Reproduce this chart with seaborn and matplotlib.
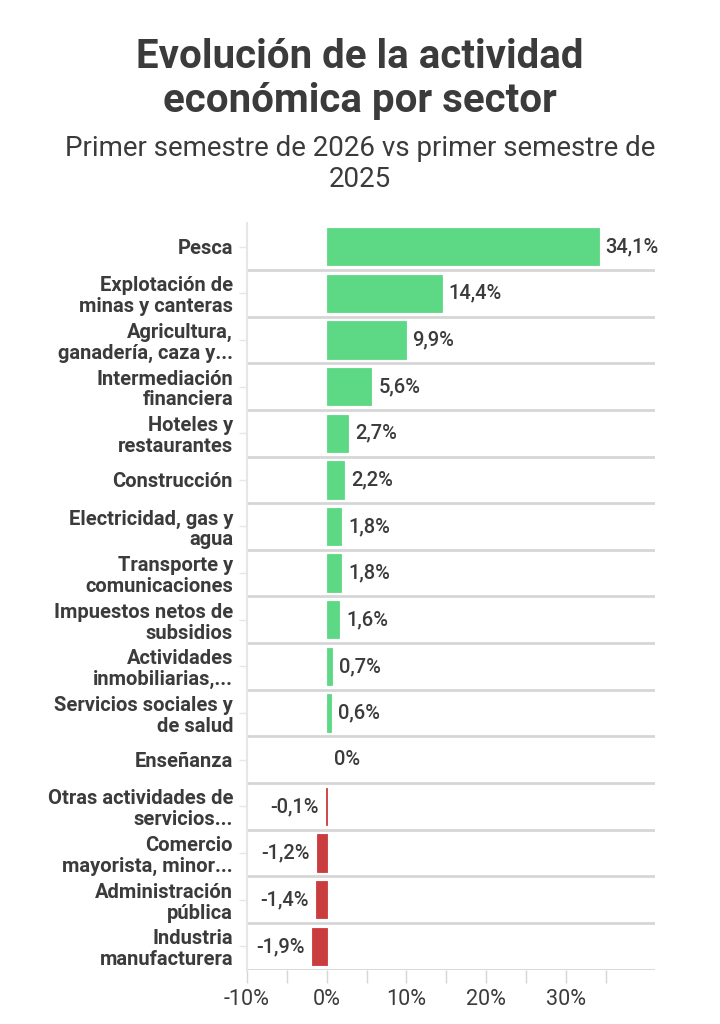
import numpy as np
import pandas as pd
import matplotlib
matplotlib.use("Agg")
import matplotlib.pyplot as plt
from matplotlib.ticker import FixedLocator
import seaborn as sns

################ DATA ################
sectores = [
    "Pesca",
    "Explotación de\nminas y canteras",
    "Agricultura,\nganadería, caza y...",
    "Intermediación\nfinanciera",
    "Hoteles y\nrestaurantes",
    "Construcción",
    "Electricidad, gas y\nagua",
    "Transporte y\ncomunicaciones",
    "Impuestos netos de\nsubsidios",
    "Actividades\ninmobiliarias,...",
    "Servicios sociales y\nde salud",
    "Enseñanza",
    "Otras actividades de\nservicios...",
    "Comercio\nmayorista, minor...",
    "Administración\npública",
    "Industria\nmanufacturera",
]
variacion = [34.1, 14.4, 9.9, 5.6, 2.7, 2.2, 1.8, 1.8, 1.6, 0.7, 0.6, 0.0,
             -0.1, -1.2, -1.4, -1.9]
x_ticks = [-10, 0, 10, 20, 30]
x_tick_labels = ["-10%", "0%", "10%", "20%", "30%"]

titulo = "Evolución de la actividad\neconómica por sector"
subtitulo = "Primer semestre de 2026 vs primer semestre de\n2025"

################ STYLE ################
GREEN = "#5dd986"
RED = "#c93d3f"
TEXT = "#3b3b3b"
GRID = "#d6d6d6"

sns.set_theme(style="white")
plt.rcParams["font.family"] = ["Roboto", "DejaVu Sans"]

df = pd.DataFrame({"sector": sectores, "valor": variacion})
df["signo"] = np.where(df["valor"] < 0, "neg", "pos")

fig = plt.figure(figsize=(7.2, 10.24), dpi=100)
ax = fig.add_axes([0.343, 0.053, 0.567, 0.729])

sns.barplot(
    data=df, y="sector", x="valor", hue="signo",
    palette={"pos": GREEN, "neg": RED}, orient="h",
    dodge=False, legend=False, width=0.8, ax=ax, saturation=1,
)
# thin edge so the -0,1% bar stays visible as a line
for cont in ax.containers:
    for bar in cont:
        v = bar.get_width()
        if np.isnan(v) or v == 0:
            bar.set_linewidth(0)
            continue
        bar.set_edgecolor(bar.get_facecolor())
        bar.set_linewidth(0.6)

# value labels
for cont in ax.containers:
    labs = []
    for bar in cont:
        v = bar.get_width()
        if np.isnan(v):
            labs.append("")
            continue
        s = f"{v:.1f}".replace(".", ",") + "%"
        if v == 0:
            s = "0%"
        labs.append(s)
    ax.bar_label(cont, labels=labs, padding=5, fontsize=14.5,
                 fontweight="medium", color=TEXT)

ax.set_xlim(-10, 41.2)
ax.set_ylim(len(sectores) - 0.5, -0.5)

# row separators
for i in range(len(sectores)):
    ax.axhline(i + 0.5, color=GRID, lw=2, zorder=0)

ax.xaxis.set_major_locator(FixedLocator(x_ticks))
ax.xaxis.set_minor_locator(FixedLocator([-5, 5, 15, 25, 35]))
ax.set_xticklabels(x_tick_labels)
ax.tick_params(axis="x", which="both", length=9, width=1, color=GRID,
               labelsize=15.5, labelcolor=TEXT, pad=5, bottom=True)
ax.tick_params(axis="y", length=6, width=1, color="#e6e6e6",
               labelsize=14.5, labelcolor=TEXT, pad=4, left=True)
for lab in ax.get_yticklabels():
    lab.set_fontweight("bold")
    lab.set_linespacing(1.12)

ax.set_xlabel("")
ax.set_ylabel("")
for side in ["top", "right", "bottom"]:
    ax.spines[side].set_visible(False)
ax.spines["left"].set_color("#e6e6e6")
ax.spines["left"].set_linewidth(1.5)

fig.text(0.5, 0.963, titulo, ha="center", va="top", fontsize=29,
         fontweight="bold", color=TEXT, linespacing=1.22)
fig.text(0.5, 0.868, subtitulo, ha="center", va="top", fontsize=20,
         color=TEXT, linespacing=1.2)

fig.savefig("out.png", dpi=100, facecolor="white")
